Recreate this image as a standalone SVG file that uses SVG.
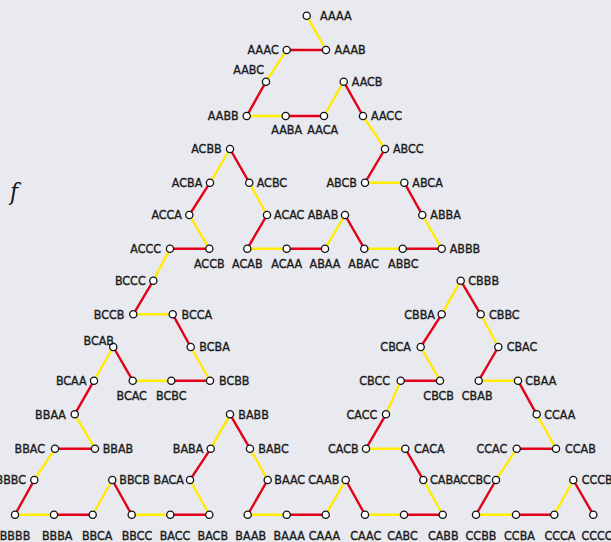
<svg xmlns="http://www.w3.org/2000/svg" width="611" height="542" viewBox="0 0 611 542">
<style>
.bg{fill:#e9eaef}
.e{stroke-width:2.4;stroke-linecap:butt;fill:none}
.y{stroke:#ffec00}
.r{stroke:#e2001a}
circle{fill:#fff;stroke:#111;stroke-width:1.3}
text{font-family:"DejaVu Sans Condensed","DejaVu Sans","Liberation Sans",sans-serif;font-size:12.4px;fill:#1a1a1a;stroke:#1a1a1a;stroke-width:0.35;font-stretch:condensed}
.L{text-anchor:end}
.R{text-anchor:start}
.B{text-anchor:middle}
.f{font-family:"DejaVu Serif","Liberation Serif",serif;font-style:italic;font-size:24px;fill:#111;stroke:none}
</style>
<rect class="bg" x="0" y="0" width="611" height="542"/>
<text class="f" x="10" y="200">f</text>
<g id="connectors">
<line class="e y" x1="306.7" y1="15.7" x2="326" y2="50"/>
<line class="e r" x1="326" y1="50" x2="286.7" y2="50"/>
<line class="e y" x1="286.7" y1="50" x2="266" y2="81.7"/>
<line class="e r" x1="266" y1="81.7" x2="246.7" y2="116"/>
<line class="e y" x1="246.7" y1="116" x2="285.7" y2="116"/>
<line class="e r" x1="285.7" y1="116" x2="324" y2="116"/>
<line class="e y" x1="324" y1="116" x2="343.7" y2="81.7"/>
<line class="e r" x1="343.7" y1="81.7" x2="363" y2="116"/>
<line class="e y" x1="363" y1="116" x2="385" y2="149"/>
<line class="e r" x1="385" y1="149" x2="365" y2="182.7"/>
<line class="e y" x1="365" y1="182.7" x2="404.3" y2="182.7"/>
<line class="e r" x1="404.3" y1="182.7" x2="422.3" y2="215"/>
<line class="e y" x1="422.3" y1="215" x2="441.7" y2="248.7"/>
<line class="e r" x1="441.7" y1="248.7" x2="402.7" y2="248.7"/>
<line class="e y" x1="402.7" y1="248.7" x2="364.3" y2="248.7"/>
<line class="e r" x1="364.3" y1="248.7" x2="345" y2="215"/>
<line class="e y" x1="345" y1="215" x2="325" y2="248.7"/>
<line class="e r" x1="325" y1="248.7" x2="286.7" y2="248.7"/>
<line class="e y" x1="286.7" y1="248.7" x2="247.3" y2="248.7"/>
<line class="e r" x1="247.3" y1="248.7" x2="267" y2="215"/>
<line class="e y" x1="267" y1="215" x2="249.3" y2="182.7"/>
<line class="e r" x1="249.3" y1="182.7" x2="230" y2="149"/>
<line class="e y" x1="230" y1="149" x2="210" y2="182.7"/>
<line class="e r" x1="210" y1="182.7" x2="189.3" y2="215"/>
<line class="e y" x1="189.3" y1="215" x2="209.3" y2="248.7"/>
<line class="e r" x1="209.3" y1="248.7" x2="170" y2="248.7"/>
<line class="e y" x1="170" y1="248.7" x2="153.3" y2="280.7"/>
<line class="e r" x1="153.3" y1="280.7" x2="133.3" y2="314.3"/>
<line class="e y" x1="133.3" y1="314.3" x2="172.7" y2="314.3"/>
<line class="e r" x1="172.7" y1="314.3" x2="190.7" y2="347"/>
<line class="e y" x1="190.7" y1="347" x2="210" y2="380.7"/>
<line class="e r" x1="210" y1="380.7" x2="171.3" y2="380.7"/>
<line class="e y" x1="171.3" y1="380.7" x2="132.7" y2="380.7"/>
<line class="e r" x1="132.7" y1="380.7" x2="113.3" y2="347"/>
<line class="e y" x1="113.3" y1="347" x2="94" y2="380.7"/>
<line class="e r" x1="94" y1="380.7" x2="74.7" y2="414.3"/>
<line class="e y" x1="74.7" y1="414.3" x2="95" y2="448.7"/>
<line class="e r" x1="95" y1="448.7" x2="55" y2="448.7"/>
<line class="e y" x1="55" y1="448.7" x2="34.3" y2="480"/>
<line class="e r" x1="34.3" y1="480" x2="15" y2="514.7"/>
<line class="e y" x1="15" y1="514.7" x2="54" y2="514.7"/>
<line class="e r" x1="54" y1="514.7" x2="92.7" y2="514.7"/>
<line class="e y" x1="92.7" y1="514.7" x2="112.3" y2="480"/>
<line class="e r" x1="112.3" y1="480" x2="131.7" y2="514.7"/>
<line class="e y" x1="131.7" y1="514.7" x2="170.3" y2="514.7"/>
<line class="e r" x1="170.3" y1="514.7" x2="209.3" y2="514.7"/>
<line class="e y" x1="209.3" y1="514.7" x2="190" y2="480"/>
<line class="e r" x1="190" y1="480" x2="210.7" y2="448.7"/>
<line class="e y" x1="210.7" y1="448.7" x2="230" y2="414.3"/>
<line class="e r" x1="230" y1="414.3" x2="250" y2="448.7"/>
<line class="e y" x1="250" y1="448.7" x2="267.7" y2="480"/>
<line class="e r" x1="267.7" y1="480" x2="247.7" y2="514.7"/>
<line class="e y" x1="247.7" y1="514.7" x2="286.7" y2="514.7"/>
<line class="e r" x1="286.7" y1="514.7" x2="325.7" y2="514.7"/>
<line class="e y" x1="325.7" y1="514.7" x2="345.7" y2="480"/>
<line class="e r" x1="345.7" y1="480" x2="365" y2="514.7"/>
<line class="e y" x1="365" y1="514.7" x2="404" y2="514.7"/>
<line class="e r" x1="404" y1="514.7" x2="442.7" y2="514.7"/>
<line class="e y" x1="442.7" y1="514.7" x2="423.3" y2="480"/>
<line class="e r" x1="423.3" y1="480" x2="405.3" y2="448.7"/>
<line class="e y" x1="405.3" y1="448.7" x2="366" y2="448.7"/>
<line class="e r" x1="366" y1="448.7" x2="386" y2="414.3"/>
<line class="e y" x1="386" y1="414.3" x2="400.7" y2="380.7"/>
<line class="e r" x1="400.7" y1="380.7" x2="440" y2="380.7"/>
<line class="e y" x1="440" y1="380.7" x2="420.7" y2="347"/>
<line class="e r" x1="420.7" y1="347" x2="441.7" y2="314.3"/>
<line class="e y" x1="441.7" y1="314.3" x2="460.7" y2="280.7"/>
<line class="e r" x1="460.7" y1="280.7" x2="480.7" y2="314.3"/>
<line class="e y" x1="480.7" y1="314.3" x2="498.3" y2="347"/>
<line class="e r" x1="498.3" y1="347" x2="478.7" y2="380.7"/>
<line class="e y" x1="478.7" y1="380.7" x2="518" y2="380.7"/>
<line class="e r" x1="518" y1="380.7" x2="536.7" y2="414.3"/>
<line class="e y" x1="536.7" y1="414.3" x2="556" y2="448.7"/>
<line class="e r" x1="556" y1="448.7" x2="516.7" y2="448.7"/>
<line class="e y" x1="516.7" y1="448.7" x2="496" y2="480"/>
<line class="e r" x1="496" y1="480" x2="476" y2="514.7"/>
<line class="e y" x1="476" y1="514.7" x2="516" y2="514.7"/>
<line class="e r" x1="516" y1="514.7" x2="554.3" y2="514.7"/>
<line class="e y" x1="554.3" y1="514.7" x2="573.3" y2="480"/>
<line class="e r" x1="573.3" y1="480" x2="593.3" y2="514.7"/>
</g>
<g id="nodes">
<g id="AAAA"><circle cx="306.7" cy="15.7" r="3.6"/><text class="R" x="320" y="20.1">AAAA</text></g>
<g id="AAAB"><circle cx="326" cy="50" r="3.6"/><text class="R" x="334.5" y="54.4">AAAB</text></g>
<g id="AAAC"><circle cx="286.7" cy="50" r="3.6"/><text class="L" x="278.7" y="54.4">AAAC</text></g>
<g id="AABC"><circle cx="266" cy="81.7" r="3.6"/><text class="L" x="264" y="74">AABC</text></g>
<g id="AABB"><circle cx="246.7" cy="116" r="3.6"/><text class="L" x="238.7" y="120.4">AABB</text></g>
<g id="AABA"><circle cx="285.7" cy="116" r="3.6"/><text class="B" x="286.7" y="134">AABA</text></g>
<g id="AACA"><circle cx="324" cy="116" r="3.6"/><text class="B" x="322.7" y="134">AACA</text></g>
<g id="AACB"><circle cx="343.7" cy="81.7" r="3.6"/><text class="R" x="351.7" y="86.1">AACB</text></g>
<g id="AACC"><circle cx="363" cy="116" r="3.6"/><text class="R" x="371" y="120.4">AACC</text></g>
<g id="ABCC"><circle cx="385" cy="149" r="3.6"/><text class="R" x="393" y="153.4">ABCC</text></g>
<g id="ABCB"><circle cx="365" cy="182.7" r="3.6"/><text class="L" x="357" y="187.1">ABCB</text></g>
<g id="ABCA"><circle cx="404.3" cy="182.7" r="3.6"/><text class="R" x="412.3" y="187.1">ABCA</text></g>
<g id="ABBA"><circle cx="422.3" cy="215" r="3.6"/><text class="R" x="430.3" y="219.4">ABBA</text></g>
<g id="ABBB"><circle cx="441.7" cy="248.7" r="3.6"/><text class="R" x="449.7" y="253.1">ABBB</text></g>
<g id="ABBC"><circle cx="402.7" cy="248.7" r="3.6"/><text class="B" x="403.3" y="268">ABBC</text></g>
<g id="ABAC"><circle cx="364.3" cy="248.7" r="3.6"/><text class="B" x="363.5" y="268">ABAC</text></g>
<g id="ABAB"><circle cx="345" cy="215" r="3.6"/><text class="L" x="338.3" y="219.4">ABAB</text></g>
<g id="ABAA"><circle cx="325" cy="248.7" r="3.6"/><text class="B" x="325" y="268">ABAA</text></g>
<g id="ACAA"><circle cx="286.7" cy="248.7" r="3.6"/><text class="B" x="286.7" y="268">ACAA</text></g>
<g id="ACAB"><circle cx="247.3" cy="248.7" r="3.6"/><text class="B" x="247.3" y="268">ACAB</text></g>
<g id="ACAC"><circle cx="267" cy="215" r="3.6"/><text class="R" x="274" y="219.4">ACAC</text></g>
<g id="ACBC"><circle cx="249.3" cy="182.7" r="3.6"/><text class="R" x="256.7" y="187.1">ACBC</text></g>
<g id="ACBB"><circle cx="230" cy="149" r="3.6"/><text class="L" x="221.7" y="153.4">ACBB</text></g>
<g id="ACBA"><circle cx="210" cy="182.7" r="3.6"/><text class="L" x="202.3" y="187.1">ACBA</text></g>
<g id="ACCA"><circle cx="189.3" cy="215" r="3.6"/><text class="L" x="182" y="219.4">ACCA</text></g>
<g id="ACCB"><circle cx="209.3" cy="248.7" r="3.6"/><text class="B" x="209.3" y="268">ACCB</text></g>
<g id="ACCC"><circle cx="170" cy="248.7" r="3.6"/><text class="L" x="161" y="253.1">ACCC</text></g>
<g id="BCCC"><circle cx="153.3" cy="280.7" r="3.6"/><text class="L" x="145.7" y="285.1">BCCC</text></g>
<g id="BCCB"><circle cx="133.3" cy="314.3" r="3.6"/><text class="L" x="124.5" y="318.7">BCCB</text></g>
<g id="BCCA"><circle cx="172.7" cy="314.3" r="3.6"/><text class="R" x="181.5" y="318.7">BCCA</text></g>
<g id="BCBA"><circle cx="190.7" cy="347" r="3.6"/><text class="R" x="199.3" y="351.4">BCBA</text></g>
<g id="BCBB"><circle cx="210" cy="380.7" r="3.6"/><text class="R" x="219" y="385.1">BCBB</text></g>
<g id="BCBC"><circle cx="171.3" cy="380.7" r="3.6"/><text class="B" x="171.3" y="400.4">BCBC</text></g>
<g id="BCAC"><circle cx="132.7" cy="380.7" r="3.6"/><text class="B" x="131.7" y="400.4">BCAC</text></g>
<g id="BCAB"><circle cx="113.3" cy="347" r="3.6"/><text class="L" x="114" y="345.3">BCAB</text></g>
<g id="BCAA"><circle cx="94" cy="380.7" r="3.6"/><text class="L" x="86.7" y="385.1">BCAA</text></g>
<g id="BBAA"><circle cx="74.7" cy="414.3" r="3.6"/><text class="L" x="66" y="418.7">BBAA</text></g>
<g id="BBAB"><circle cx="95" cy="448.7" r="3.6"/><text class="R" x="102.7" y="453.1">BBAB</text></g>
<g id="BBAC"><circle cx="55" cy="448.7" r="3.6"/><text class="L" x="45" y="453.1">BBAC</text></g>
<g id="BBBC"><circle cx="34.3" cy="480" r="3.6"/><text class="L" x="26" y="484.4">BBBC</text></g>
<g id="BBBB"><circle cx="15" cy="514.7" r="3.6"/><text class="B" x="15" y="539.8">BBBB</text></g>
<g id="BBBA"><circle cx="54" cy="514.7" r="3.6"/><text class="B" x="57.2" y="539.8">BBBA</text></g>
<g id="BBCA"><circle cx="92.7" cy="514.7" r="3.6"/><text class="B" x="97.2" y="539.8">BBCA</text></g>
<g id="BBCB"><circle cx="112.3" cy="480" r="3.6"/><text class="R" x="119.3" y="484.4">BBCB</text></g>
<g id="BBCC"><circle cx="131.7" cy="514.7" r="3.6"/><text class="B" x="137" y="539.8">BBCC</text></g>
<g id="BACC"><circle cx="170.3" cy="514.7" r="3.6"/><text class="B" x="175" y="539.8">BACC</text></g>
<g id="BACB"><circle cx="209.3" cy="514.7" r="3.6"/><text class="B" x="212.8" y="539.8">BACB</text></g>
<g id="BACA"><circle cx="190" cy="480" r="3.6"/><text class="L" x="184" y="484.4">BACA</text></g>
<g id="BABA"><circle cx="210.7" cy="448.7" r="3.6"/><text class="L" x="203.3" y="453.1">BABA</text></g>
<g id="BABB"><circle cx="230" cy="414.3" r="3.6"/><text class="R" x="238.3" y="418.7">BABB</text></g>
<g id="BABC"><circle cx="250" cy="448.7" r="3.6"/><text class="R" x="258.3" y="453.1">BABC</text></g>
<g id="BAAC"><circle cx="267.7" cy="480" r="3.6"/><text class="R" x="274.3" y="484.4">BAAC</text></g>
<g id="BAAB"><circle cx="247.7" cy="514.7" r="3.6"/><text class="B" x="250.8" y="539.8">BAAB</text></g>
<g id="BAAA"><circle cx="286.7" cy="514.7" r="3.6"/><text class="B" x="289.2" y="539.8">BAAA</text></g>
<g id="CAAA"><circle cx="325.7" cy="514.7" r="3.6"/><text class="B" x="324.5" y="539.8">CAAA</text></g>
<g id="CAAB"><circle cx="345.7" cy="480" r="3.6"/><text class="L" x="339.3" y="484.4">CAAB</text></g>
<g id="CAAC"><circle cx="365" cy="514.7" r="3.6"/><text class="B" x="365.7" y="539.8">CAAC</text></g>
<g id="CABC"><circle cx="404" cy="514.7" r="3.6"/><text class="B" x="402.5" y="539.8">CABC</text></g>
<g id="CABB"><circle cx="442.7" cy="514.7" r="3.6"/><text class="B" x="443.3" y="539.8">CABB</text></g>
<g id="CABA"><circle cx="423.3" cy="480" r="3.6"/><text class="R" x="430" y="484.4">CABA</text></g>
<g id="CACA"><circle cx="405.3" cy="448.7" r="3.6"/><text class="R" x="414" y="453.1">CACA</text></g>
<g id="CACB"><circle cx="366" cy="448.7" r="3.6"/><text class="L" x="358.7" y="453.1">CACB</text></g>
<g id="CACC"><circle cx="386" cy="414.3" r="3.6"/><text class="L" x="377.3" y="418.7">CACC</text></g>
<g id="CBCC"><circle cx="400.7" cy="380.7" r="3.6"/><text class="L" x="390" y="385.1">CBCC</text></g>
<g id="CBCB"><circle cx="440" cy="380.7" r="3.6"/><text class="B" x="438.7" y="400">CBCB</text></g>
<g id="CBCA"><circle cx="420.7" cy="347" r="3.6"/><text class="L" x="411" y="351.4">CBCA</text></g>
<g id="CBBA"><circle cx="441.7" cy="314.3" r="3.6"/><text class="L" x="435" y="318.7">CBBA</text></g>
<g id="CBBB"><circle cx="460.7" cy="280.7" r="3.6"/><text class="R" x="468.3" y="285.1">CBBB</text></g>
<g id="CBBC"><circle cx="480.7" cy="314.3" r="3.6"/><text class="R" x="489" y="318.7">CBBC</text></g>
<g id="CBAC"><circle cx="498.3" cy="347" r="3.6"/><text class="R" x="506.7" y="351.4">CBAC</text></g>
<g id="CBAB"><circle cx="478.7" cy="380.7" r="3.6"/><text class="B" x="477.2" y="400">CBAB</text></g>
<g id="CBAA"><circle cx="518" cy="380.7" r="3.6"/><text class="R" x="525.3" y="385.1">CBAA</text></g>
<g id="CCAA"><circle cx="536.7" cy="414.3" r="3.6"/><text class="R" x="544.3" y="418.7">CCAA</text></g>
<g id="CCAB"><circle cx="556" cy="448.7" r="3.6"/><text class="R" x="565" y="453.1">CCAB</text></g>
<g id="CCAC"><circle cx="516.7" cy="448.7" r="3.6"/><text class="L" x="507.3" y="453.1">CCAC</text></g>
<g id="CCBC"><circle cx="496" cy="480" r="3.6"/><text class="L" x="490.7" y="484.4">CCBC</text></g>
<g id="CCBB"><circle cx="476" cy="514.7" r="3.6"/><text class="B" x="481" y="539.8">CCBB</text></g>
<g id="CCBA"><circle cx="516" cy="514.7" r="3.6"/><text class="B" x="519.5" y="539.8">CCBA</text></g>
<g id="CCCA"><circle cx="554.3" cy="514.7" r="3.6"/><text class="B" x="560" y="539.8">CCCA</text></g>
<g id="CCCB"><circle cx="573.3" cy="480" r="3.6"/><text class="R" x="581.7" y="484.4">CCCB</text></g>
<g id="CCCC"><circle cx="593.3" cy="514.7" r="3.6"/><text class="B" x="597" y="539.8">CCCC</text></g>
</g>
</svg>
